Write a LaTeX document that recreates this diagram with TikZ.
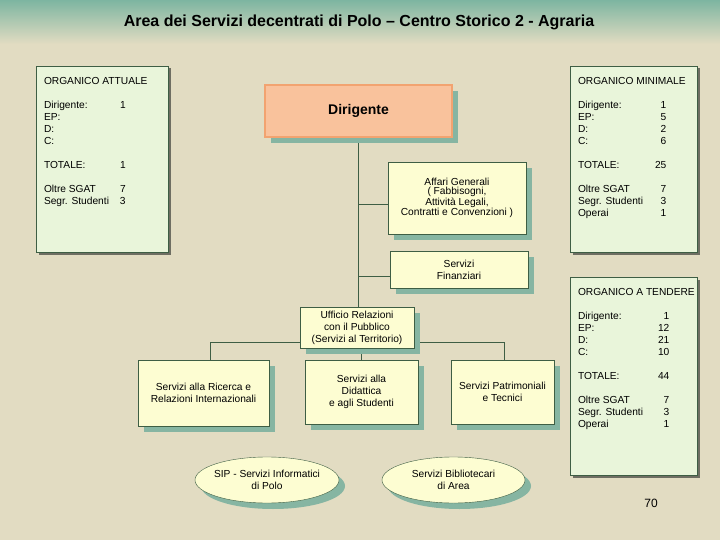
\documentclass[tikz,border=0pt]{standalone}
\usepackage{fontspec}
\setmainfont{Liberation Sans}
\usetikzlibrary{positioning,shapes.geometric,shadows,backgrounds}

\definecolor{bgbeige}{HTML}{E2DCC2}
\definecolor{bgteal}{HTML}{7DB5A1}
\definecolor{linegreen}{HTML}{3E5E44}
\definecolor{unitfill}{HTML}{FDFDD2}
\definecolor{orgfill}{HTML}{E9F5DA}
\definecolor{shadowgreen}{HTML}{86B5A2}
\definecolor{orgshadow}{HTML}{6E6E62}
\definecolor{dirfill}{HTML}{F9C29C}
\definecolor{dirdraw}{HTML}{F2A370}

\begin{document}
\begin{tikzpicture}[
  x=1pt,y=-1pt,
  font=\fontsize{10.2}{12}\selectfont,
  unit/.style={draw=linegreen,fill=unitfill,align=center,inner sep=0pt,
    general shadow={fill=shadowgreen,shadow xshift=6pt,shadow yshift=-6pt}},
  oval/.style={unit,ellipse,inner xsep=-22pt,inner ysep=-4pt},
  organico/.style={draw=linegreen,fill=orgfill,inner sep=0pt,
    general shadow={fill=orgshadow,shadow xshift=2.5pt,shadow yshift=-2.5pt}},
  tab/.style={anchor=north west,inner sep=0pt},
  link/.style={draw=linegreen,line width=0.9pt},
]
\useasboundingbox (0,0) rectangle (720,540);

% ---------- title ----------
\node[font=\bfseries\fontsize{16}{18}\selectfont] (titolo) at (359,22)
  {Area dei Servizi decentrati di Polo – Centro Storico 2 - Agraria};

% ---------- staff tables ----------
\node[organico,minimum width=132pt,minimum height=186pt] (attuale) at (102,159) {};
\node[tab] (attuale-txt) at ([shift={(8pt,-10pt)}]attuale.north west)
  {\begin{tabular}{@{}p{76pt}@{}r@{}}
   \multicolumn{2}{@{}l@{}}{\rlap{ORGANICO ATTUALE}}\\ \\
   Dirigente: & 1\\ EP: & \\ D: & \\ C: & \\ \\
   TOTALE: & 1\\ \\
   Oltre SGAT & 7\\ Segr. Studenti & 3
   \end{tabular}};

\node[organico,minimum width=127pt,minimum height=186pt] (minimale) at (633.5,159) {};
\node[tab] (minimale-txt) at ([shift={(8pt,-10pt)}]minimale.north west)
  {\begin{tabular}{@{}p{77pt}@{}r@{}}
   \multicolumn{2}{@{}l@{}}{\rlap{ORGANICO MINIMALE}}\\ \\
   Dirigente: & 1\\ EP: & 5\\ D: & 2\\ C: & 6\\ \\
   TOTALE: & 25\\ \\
   Oltre SGAT & 7\\ Segr. Studenti & 3\\ Operai & 1
   \end{tabular}};

\node[organico,minimum width=127pt,minimum height=198pt] (tendere) at (633.5,376) {};
\node[tab] (tendere-txt) at ([shift={(8pt,-10pt)}]tendere.north west)
  {\begin{tabular}{@{}p{80pt}@{}r@{}}
   \multicolumn{2}{@{}l@{}}{\rlap{ORGANICO A TENDERE}}\\ \\
   Dirigente: & 1\\ EP: & 12\\ D: & 21\\ C: & 10\\ \\
   TOTALE: & 44\\ \\
   Oltre SGAT & 7\\ Segr. Studenti & 3\\ Operai & 1
   \end{tabular}};

% ---------- org chart ----------
\node[unit,fill=dirfill,draw=dirdraw,line width=2pt,minimum width=187pt,minimum height=52pt,
  font=\bfseries\fontsize{14}{16}\selectfont] (dir) at (358.5,111) {Dirigente};
\node[unit,minimum width=138pt,minimum height=72pt,font=\fontsize{10.2}{9.4}\selectfont] (affari) at (457,198)
  {Affari Generali\\( Fabbisogni,\\Attività Legali,\\Contratti e Convenzioni )};
\node[unit,minimum width=138pt,minimum height=37pt] (finanz) at (459,269.5) {Servizi\\Finanziari};
\node[unit,minimum width=114pt,minimum height=41pt] (urp) at (357,327.5)
  {Ufficio Relazioni\\con il Pubblico\\(Servizi al Territorio)};
\node[unit,minimum width=131pt,minimum height=66pt] (ricerca) at (203.5,393)
  {Servizi alla Ricerca e\\Relazioni Internazionali};
\node[unit,minimum width=113pt,minimum height=64pt] (didattica) at (361.5,392)
  {Servizi alla\\Didattica\\e agli Studenti};
\node[unit,minimum width=103pt,minimum height=64pt] (patrim) at (502.5,392)
  {Servizi Patrimoniali\\e Tecnici};
\node[oval,minimum width=144pt,minimum height=46pt] (sip) at (267,480)
  {SIP - Servizi Informatici\\di Polo};
\node[oval,minimum width=143pt,minimum height=46pt] (bibl) at (453.5,480)
  {Servizi Bibliotecari\\di Area};

\node[font=\fontsize{12}{14}\selectfont] (pagina) at (651,503) {70};

\coordinate (affari-in) at ([yshift=-6pt]affari.west);
\coordinate (finanz-in) at ([yshift=-7pt]finanz.west);
\coordinate (bus) at ([yshift=6pt]urp.south);

\begin{scope}[on background layer]
  \fill[bgbeige] (0,0) rectangle (720,540);
  \shade[top color=bgteal,bottom color=bgbeige] (0,0) rectangle (720,44);
  \draw[link] (dir.south) -- (dir.south |- urp.north);
  \draw[link] (affari-in) -- (affari-in -| dir.south);
  \draw[link] (finanz-in) -- (finanz-in -| dir.south);
  \draw[link] ([xshift=7pt]ricerca.north) |- (bus) -| ([xshift=2pt]patrim.north);
  \draw[link] (didattica.north) -- (didattica.north |- urp.south);
\end{scope}

\end{tikzpicture}
\end{document}
